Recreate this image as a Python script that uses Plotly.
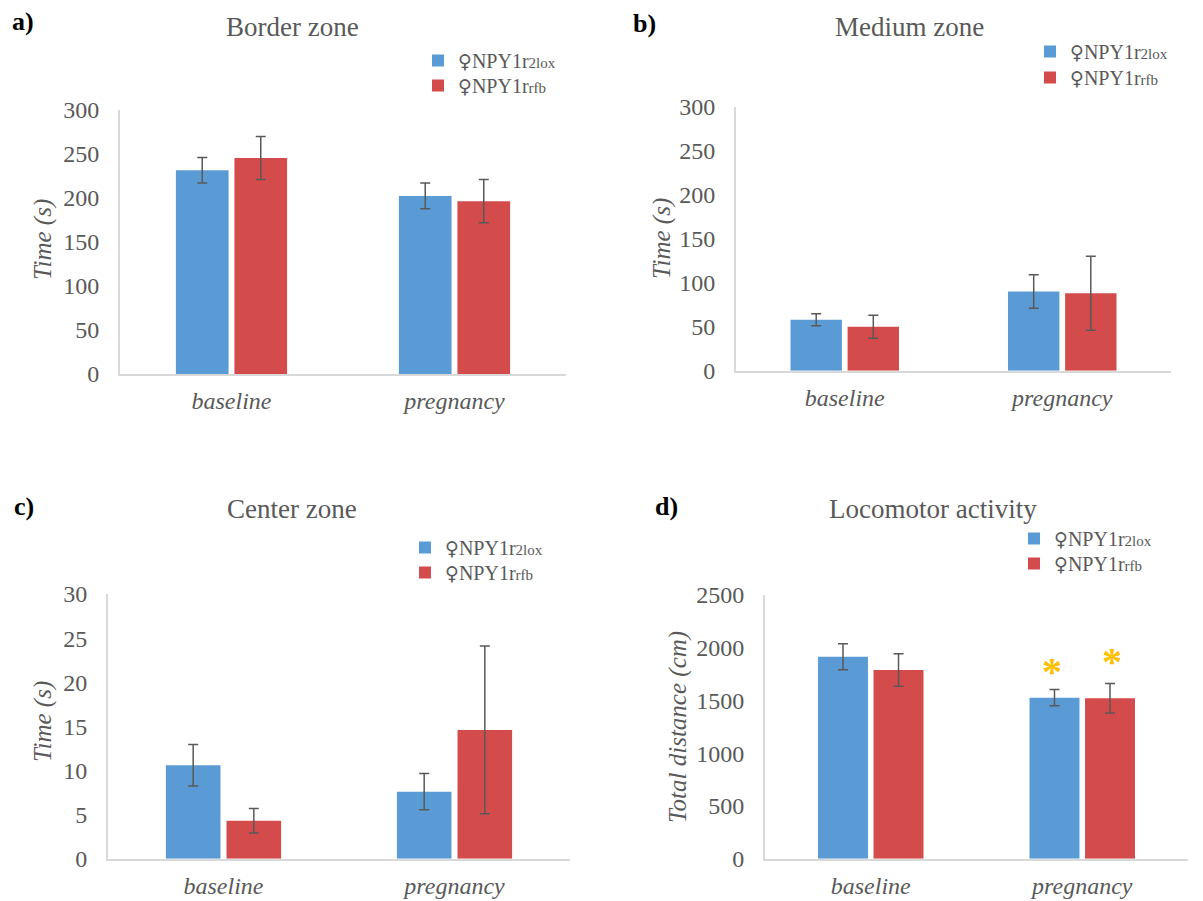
import plotly.graph_objects as go

W, H = 1203, 901

categories = ["baseline", "pregnancy"]
FEM = "<span style='font-family:DejaVu Sans;font-size:19px'>♀</span>"
series_names = [FEM + "NPY1r<span style='font-size:15px'>2lox</span>",
                FEM + "NPY1r<span style='font-size:15px'>rfb</span>"]
colors = ["#5B9BD5", "#D34B4B"]

# a) Border zone
border_lox = [231, 202]
border_lox_err = [14.5, 14.5]
border_rfb = [245, 196]
border_rfb_err = [24.5, 24.5]

# b) Medium zone
medium_lox = [58, 90]
medium_lox_err = [6.8, 19]
medium_rfb = [50, 88]
medium_rfb_err = [13, 42]

# c) Center zone
center_lox = [10.6, 7.6]
center_lox_err = [2.35, 2.05]
center_rfb = [4.3, 14.6]
center_rfb_err = [1.4, 9.5]

# d) Locomotor activity
loco_lox = [1915, 1527]
loco_lox_err = [124, 78]
loco_rfb = [1789, 1521]
loco_rfb_err = [155, 140]
star_y = [1775, 1870]  # asterisk positions (pregnancy: lox, rfb)

y_ticks_time = [0, 50, 100, 150, 200, 250, 300]
y_ticks_center = [0, 5, 10, 15, 20, 25, 30]
y_ticks_loco = [0, 500, 1000, 1500, 2000, 2500]

FONT = "Liberation Serif, Times New Roman, serif"
GREY = "#595959"
AXC = "#D9D9D9"

def px_x(p):
    return p / W

def px_y(p):
    return 1 - p / H

panels = [
    # (lox, lox_err, rfb, rfb_err, ticks, x0, x1, ytop, ybot, legend x, legend row centres)
    (border_lox, border_lox_err, border_rfb, border_rfb_err, y_ticks_time, 120, 566, 109.5, 374, 418, (61, 86)),
    (medium_lox, medium_lox_err, medium_rfb, medium_rfb_err, y_ticks_time, 736, 1171, 106.7, 370.7, 1030, (52, 78)),
    (center_lox, center_lox_err, center_rfb, center_rfb_err, y_ticks_center, 108, 570, 594, 858.7, 405, (548, 573)),
    (loco_lox, loco_lox_err, loco_rfb, loco_rfb_err, y_ticks_loco, 765, 1188, 595, 858.7, 1014, (539, 564)),
]

fig = go.Figure()
layout = {}
leg_idx = 0
for i, (lox, loxe, rfb, rfbe, ticks, x0, x1, yt, yb, lx, rows) in enumerate(panels):
    n = "" if i == 0 else str(i + 1)
    xa, ya = "x" + n, "y" + n
    for (vals, errs, name, col), ry in zip([(lox, loxe, series_names[0], colors[0]),
                                             (rfb, rfbe, series_names[1], colors[1])], rows):
        leg_idx += 1
        lkey = "legend" if leg_idx == 1 else "legend" + str(leg_idx)
        fig.add_trace(go.Bar(
            x=categories, y=vals, name=name, marker_color=col,
            marker_line_width=0,
            error_y=dict(type="data", array=errs, color=GREY, thickness=1.5, width=5),
            xaxis=xa, yaxis=ya, legend=lkey,
        ))
        layout[lkey] = dict(
            x=px_x(lx), y=px_y(ry - 20), xanchor="left", yanchor="top",
            font=dict(family=FONT, size=20, color=GREY), bgcolor="rgba(0,0,0,0)",
            itemclick=False,
        )
    layout["xaxis" + n] = dict(
        domain=[px_x(x0), px_x(x1)], anchor=ya, showline=True, linecolor=AXC, linewidth=2,
        showgrid=False, ticks="outside", ticklen=4, tickcolor="rgba(0,0,0,0)", automargin=False,
        tickfont=dict(family=FONT, size=24, color=GREY, style="italic"),
    )
    layout["yaxis" + n] = dict(
        domain=[px_y(yb), px_y(yt)], anchor=xa, range=[0, ticks[-1]], tickvals=ticks,
        showline=True, linecolor=AXC, linewidth=2, showgrid=False, zeroline=False,
        ticks="outside", ticklen=14, tickcolor="rgba(0,0,0,0)", automargin=False,
        tickfont=dict(family=FONT, size=24, color=GREY),
    )

annotations = []
titles = [("Border zone", 292, 27), ("Medium zone", 909, 27),
          ("Center zone", 292, 509), ("Locomotor activity", 933, 509)]
for t, x, y in titles:
    annotations.append(dict(text=t, x=px_x(x), y=px_y(y), xref="paper", yref="paper",
                            showarrow=False, xanchor="center", yanchor="middle",
                            font=dict(family=FONT, size=27, color=GREY)))
labels = [("a)", 23, 22), ("b)", 644, 24), ("c)", 24, 506), ("d)", 666, 507)]
for t, x, y in labels:
    annotations.append(dict(text="<b>" + t + "</b>", x=px_x(x), y=px_y(y), xref="paper", yref="paper",
                            showarrow=False, xanchor="center", yanchor="middle",
                            font=dict(family=FONT, size=26, color="black")))
ytitles = [("Time (s)", 43, 240), ("Time (s)", 662, 239),
           ("Time (s)", 43, 722), ("Total distance (cm)", 678, 727)]
for t, x, y in ytitles:
    annotations.append(dict(text="<i>" + t + "</i>", x=px_x(x), y=px_y(y), xref="paper", yref="paper",
                            showarrow=False, xanchor="center", yanchor="middle", textangle=-90,
                            font=dict(family=FONT, size=25, color=GREY)))
# significance asterisks on pregnancy bars (panel d)
for sy, shift in zip(star_y, [-30, 30]):
    annotations.append(dict(text="<b>*</b>", x=categories[1], y=sy, xref="x4", yref="y4",
                            xshift=shift, showarrow=False, yanchor="middle",
                            font=dict(family=FONT, size=40, color="#FFC000")))

fig.update_layout(
    width=W, height=H, margin=dict(l=0, r=0, t=0, b=0, autoexpand=False),
    font=dict(family=FONT, color=GREY),
    paper_bgcolor="white", plot_bgcolor="white",
    barmode="group", bargap=0.475, bargroupgap=0.1,
    annotations=annotations, showlegend=True,
    **layout,
)
fig.write_html("out.html")
